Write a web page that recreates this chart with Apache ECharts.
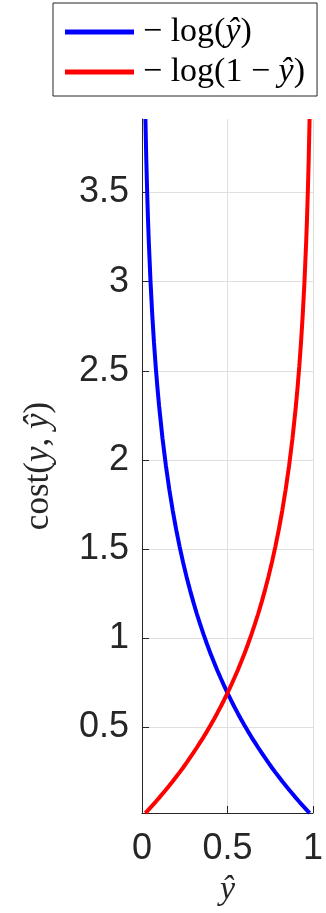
<!DOCTYPE html>
<html><head><meta charset="utf-8">
<script src="https://cdn.jsdelivr.net/npm/echarts@6/dist/echarts.min.js"></script>
<style>html,body{margin:0;padding:0;background:#fff}#c{width:326px;height:913px}</style>
</head><body><div id="c"></div>
<script>
// -log(y_hat)
const blueX = [0.02,0.025,0.03,0.035,0.04,0.05,0.06,0.07,0.08,0.09,0.10,0.12,0.14,0.16,0.18,0.20,0.22,0.24,0.26,0.28,0.30,0.32,0.34,0.36,0.38,0.40,0.42,0.44,0.46,0.48,0.50,0.52,0.54,0.56,0.58,0.60,0.62,0.64,0.66,0.68,0.70,0.72,0.74,0.76,0.78,0.80,0.82,0.84,0.86,0.88,0.90,0.92,0.94,0.96,0.98];
const blueY = [3.912,3.689,3.507,3.352,3.219,2.996,2.813,2.659,2.526,2.408,2.303,2.120,1.966,1.833,1.715,1.609,1.514,1.427,1.347,1.273,1.204,1.139,1.079,1.022,0.968,0.916,0.868,0.821,0.777,0.734,0.693,0.654,0.616,0.580,0.545,0.511,0.478,0.446,0.416,0.386,0.357,0.329,0.301,0.274,0.248,0.223,0.198,0.174,0.151,0.128,0.105,0.083,0.062,0.041,0.020];
// -log(1 - y_hat)
const redX = [0.02,0.04,0.06,0.08,0.10,0.12,0.14,0.16,0.18,0.20,0.22,0.24,0.26,0.28,0.30,0.32,0.34,0.36,0.38,0.40,0.42,0.44,0.46,0.48,0.50,0.52,0.54,0.56,0.58,0.60,0.62,0.64,0.66,0.68,0.70,0.72,0.74,0.76,0.78,0.80,0.82,0.84,0.86,0.88,0.90,0.91,0.92,0.93,0.94,0.95,0.96,0.965,0.97,0.975,0.98];
const redY = [0.020,0.041,0.062,0.083,0.105,0.128,0.151,0.174,0.198,0.223,0.248,0.274,0.301,0.329,0.357,0.386,0.416,0.446,0.478,0.511,0.545,0.580,0.616,0.654,0.693,0.734,0.777,0.821,0.868,0.916,0.968,1.022,1.079,1.139,1.204,1.273,1.347,1.427,1.514,1.609,1.715,1.833,1.966,2.120,2.303,2.408,2.526,2.659,2.813,2.996,3.219,3.352,3.507,3.689,3.912];
const yTicks = [0.5,1,1.5,2,2.5,3,3.5];
const xTicks = [0,0.5,1];
const seriesNames = ['neglog', 'neglog1m'];

const chart = echarts.init(document.getElementById('c'), null, {renderer:'canvas'});
const serif = 'Liberation Serif';
const axisCol = '#262626';
const rich = {
  r: {fontFamily: serif, fontSize: 34, color: '#000'},
  i: {fontFamily: serif, fontStyle: 'italic', fontSize: 34, color: '#000'}
};
const legendText = {
  neglog: '{r|− log(}{i|ŷ}{r|)}',
  neglog1m: '{r|− log(1 − }{i|ŷ}{r|)}'
};
chart.setOption({
  animation: false,
  backgroundColor: '#fff',
  grid: {left: 142, right: 7, top: 119, bottom: 100},
  legend: {
    orient: 'vertical', left: 53, top: 3,
    padding: [12, 12, 7, 12],
    icon: 'rect',
    itemWidth: 69, itemHeight: 5, itemGap: 6,
    borderColor: axisCol, borderWidth: 1, backgroundColor: '#fff',
    data: seriesNames,
    formatter: n => legendText[n],
    textStyle: {rich: rich, lineHeight: 34, padding: [0,0,0,4]}
  },
  xAxis: {
    type: 'value', min: xTicks[0], max: xTicks[2], interval: xTicks[1],
    name: '{i|ŷ}', nameLocation: 'middle', nameGap: 60,
    nameTextStyle: {rich: {i: {fontFamily: serif, fontStyle: 'italic', fontSize: 34, color: axisCol}}},
    axisLine: {show: true, lineStyle: {color: axisCol, width: 1}},
    axisTick: {show: true, inside: true, length: 7, lineStyle: {color: axisCol}},
    axisLabel: {fontFamily: 'Liberation Sans', fontSize: 36, color: axisCol, margin: 18},
    splitLine: {show: true, lineStyle: {color: '#dfdfdf', width: 1}}
  },
  yAxis: {
    type: 'value', min: 0.0202, max: 3.912,
    name: '{r|cost(}{i|y}{r|, }{i|ŷ}{r|)}', nameLocation: 'middle', nameGap: 80,
    nameTextStyle: {rich: {
      r: {fontFamily: serif, fontSize: 35, lineHeight: 46, color: axisCol},
      i: {fontFamily: serif, fontStyle: 'italic', fontSize: 35, lineHeight: 46, color: axisCol}
    }},
    axisLine: {show: true, lineStyle: {color: axisCol, width: 1}},
    axisTick: {show: true, inside: true, length: 7, lineStyle: {color: axisCol}, customValues: yTicks},
    axisLabel: {fontFamily: 'Liberation Sans', fontSize: 36, color: axisCol, margin: 13, customValues: yTicks},
    splitLine: {show: true, lineStyle: {color: '#dfdfdf', width: 1}}
  },
  series: [
    {name: seriesNames[0], type: 'line', symbol: 'none', color: '#0000ff',
     lineStyle: {width: 4, color: '#0000ff'}, data: blueX.map((x, i) => [x, blueY[i]])},
    {name: seriesNames[1], type: 'line', symbol: 'none', color: '#ff0000',
     lineStyle: {width: 4, color: '#ff0000'}, data: redX.map((x, i) => [x, redY[i]])}
  ]
});
</script></body></html>
